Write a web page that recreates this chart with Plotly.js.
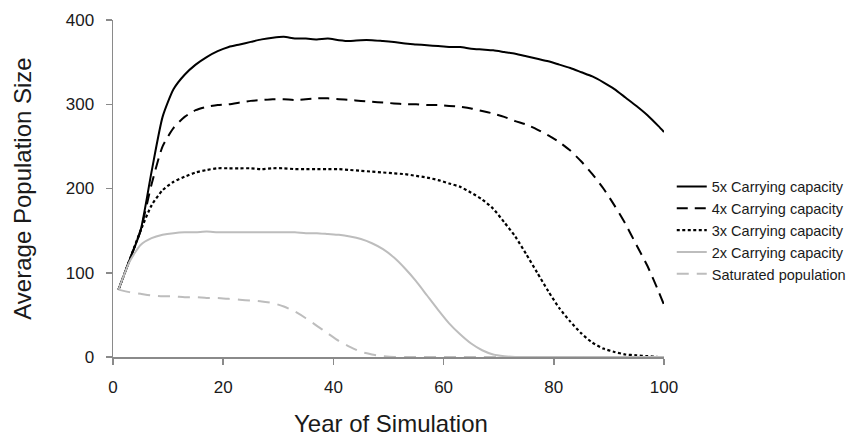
<!DOCTYPE html>
<html>
<head>
<meta charset="utf-8">
<script src="https://cdn.plot.ly/plotly-3.0.1.min.js"></script>
<style>html,body{margin:0;padding:0;background:#fff;}#chart{width:862px;height:439px;}</style>
</head>
<body>
<div id="chart"></div>
<script>
const years = [1,3,5,7,9,11,13,15,17,19,21,23,25,27,29,31,33,35,37,39,41,43,45,47,49,51,53,55,57,59,61,63,65,67,69,71,73,75,77,79,81,83,85,87,89,91,93,95,97,99,100];

const cap5x = [80,115,150,220,285,318,335,347,356,363,368,371,374,377,379,380,378,378,377,378,376,375,376,376,375,374,372,371,370,369,368,368,366,365,364,362,360,357,354,351,347,343,338,333,326,318,308,298,287,274,267];

const cap4x = [80,115,150,205,250,272,285,293,297,299,300,302,304,305,306,306,305,306,307,307,306,305,304,303,302,301,300,300,299,299,298,297,295,292,289,285,280,276,270,263,255,245,232,217,200,180,158,133,108,78,62];

const cap3x = [80,115,150,180,198,208,214,219,222,224,224,224,224,223,224,224,223,223,223,223,223,222,221,220,219,218,217,215,213,210,206,202,195,187,176,160,143,122,100,78,58,42,28,17,10,6,3,2,1,0,0];

const cap2x = [80,113,133,141,145,147,148,148,149,148,148,148,148,148,148,148,148,147,147,146,145,143,140,135,128,118,105,90,73,56,40,27,16,8,3,1,0,0,0,0,0,0,0,0,0,0,0,0,0,0,0];

const saturated = [80,77,75,73,72,72,71,71,70,70,69,68,67,66,64,60,54,46,37,28,19,12,6,3,1,0,0,0,0,0,0,0,0,0,0,0,0,0,0,0,0,0,0,0,0,0,0,0,0,0,0];

const seriesNames = ["5x Carrying capacity","4x Carrying capacity","3x Carrying capacity","2x Carrying capacity","Saturated population"];
const xTicks = [0,20,40,60,80,100];
const yTicks = [0,100,200,300,400];
const xTitle = "Year of Simulation";
const yTitle = "Average Population Size";

const fontFam = "Arial, 'Liberation Sans', sans-serif";

const traces = [
  {x: years, y: cap5x, name: seriesNames[0], mode: "lines", line: {color: "#000000", width: 2, shape: "spline", smoothing: 0.6}},
  {x: years, y: cap4x, name: seriesNames[1], mode: "lines", line: {color: "#000000", width: 2, dash: "11px,7px", shape: "spline", smoothing: 0.6}},
  {x: years, y: cap3x, name: seriesNames[2], mode: "lines", line: {color: "#000000", width: 2.2, dash: "3px,2.5px", shape: "spline", smoothing: 0.6}},
  {x: years, y: cap2x, name: seriesNames[3], mode: "lines", line: {color: "#bdbdbd", width: 2, shape: "spline", smoothing: 0.6}},
  {x: years, y: saturated, name: seriesNames[4], mode: "lines", line: {color: "#bdbdbd", width: 2, dash: "12px,8px", shape: "spline", smoothing: 0.6}}
];

const axisCommon = {
  showgrid: false, zeroline: false, showline: true, linecolor: "#8a8a8a", linewidth: 1.5,
  ticks: "outside", tickcolor: "#8a8a8a", tickwidth: 1.5, ticklen: 6,
  tickfont: {family: fontFam, size: 17, color: "#1a1a1a"}
};

// paper spans x = 113..860 px and y = 20..437 px; plot area is x 113..664, y 20..357
const paperH = 439 - 20 - 2;
const layout = {
  width: 862, height: 439,
  margin: {l: 113, r: 2, t: 20, b: 2, pad: 0},
  paper_bgcolor: "#ffffff", plot_bgcolor: "#ffffff",
  font: {family: fontFam, color: "#1a1a1a"},
  showlegend: true,
  legend: {x: 0.748, y: 0.639, xanchor: "left", yanchor: "top", bgcolor: "rgba(0,0,0,0)",
           font: {family: fontFam, size: 14.5, color: "#1a1a1a"}, tracegroupgap: 0},
  xaxis: Object.assign({}, axisCommon, {
    domain: [0, 551 / 747],
    range: [0, 100], tickvals: xTicks, ticktext: xTicks.map(String), ticklabelstandoff: 8
  }),
  yaxis: Object.assign({}, axisCommon, {
    domain: [80 / paperH, 1],
    range: [0, 400], tickvals: yTicks, ticktext: yTicks.map(String), ticklabelstandoff: 8,
    title: {text: yTitle, font: {family: fontFam, size: 24, color: "#1a1a1a"}, standoff: 27}
  }),
  annotations: [
    {text: xTitle, xref: "paper", yref: "paper", x: 0.372, y: 0.032, xanchor: "center", yanchor: "middle",
     showarrow: false, font: {family: fontFam, size: 24, color: "#1a1a1a"}}
  ]
};

Plotly.newPlot("chart", traces, layout, {displayModeBar: false, staticPlot: true});
</script>
</body>
</html>
